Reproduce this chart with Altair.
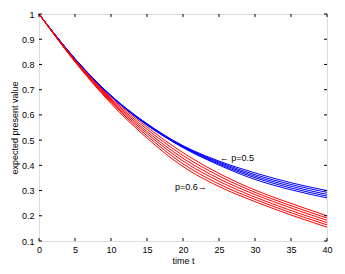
import altair as alt
import pandas as pd

# time grid
t_vals = [0, 5, 10, 15, 20, 25, 30, 35, 40]

# p = 0.5 curves (blue), top to bottom
blue_lines = [
    [1, 0.823, 0.677, 0.565, 0.478, 0.417, 0.370, 0.331, 0.300],
    [1, 0.822, 0.676, 0.564, 0.476, 0.413, 0.363, 0.324, 0.293],
    [1, 0.822, 0.675, 0.562, 0.474, 0.409, 0.357, 0.317, 0.285],
    [1, 0.821, 0.674, 0.561, 0.472, 0.405, 0.351, 0.310, 0.278],
    [1, 0.821, 0.673, 0.559, 0.470, 0.401, 0.344, 0.303, 0.271],
]

# p = 0.6 curves (red), top to bottom
red_lines = [
    [1, 0.818, 0.668, 0.552, 0.450, 0.368, 0.302, 0.249, 0.200],
    [1, 0.816, 0.663, 0.543, 0.439, 0.358, 0.293, 0.240, 0.191],
    [1, 0.815, 0.659, 0.534, 0.428, 0.347, 0.284, 0.231, 0.182],
    [1, 0.813, 0.654, 0.526, 0.417, 0.337, 0.274, 0.221, 0.173],
    [1, 0.812, 0.650, 0.517, 0.406, 0.326, 0.265, 0.212, 0.164],
    [1, 0.810, 0.645, 0.508, 0.395, 0.316, 0.256, 0.203, 0.155],
]

x_ticks = [0, 5, 10, 15, 20, 25, 30, 35, 40]
y_ticks = [0.1, 0.2, 0.3, 0.4, 0.5, 0.6, 0.7, 0.8, 0.9, 1.0]

ann_text = ["\u2190 p=0.5", "p=0.6\u2192"]
ann_t = [25.1, 23.3]
ann_v = [0.428, 0.315]
ann_align = ["left", "right"]

x_title = "time t"
y_title = "expected present value"

rows = []
for i, ys in enumerate(blue_lines):
    for t, v in zip(t_vals, ys):
        rows.append({"t": t, "v": v, "grp": "p=0.5", "id": f"b{i}"})
for i, ys in enumerate(red_lines):
    for t, v in zip(t_vals, ys):
        rows.append({"t": t, "v": v, "grp": "p=0.6", "id": f"r{i}"})
df = pd.DataFrame(rows)

FONT = "Liberation Sans"
W, H = 288, 227
TL = 3

xs = alt.Scale(domain=[0, 40], nice=False, zero=False)
ys_ = alt.Scale(domain=[0.1, 1.0], nice=False, zero=False)

x_axis = alt.Axis(values=x_ticks, format="d", tickSize=0, domain=False, grid=False,
                  labelOverlap=False, labelFlush=False,
                  labelFontSize=9, labelPadding=4, titleFontSize=9,
                  titleFontWeight="normal", titlePadding=2,
                  labelColor="black", titleColor="black", labelFont=FONT, titleFont=FONT)
y_axis = alt.Axis(values=y_ticks, format=".1~f", tickSize=0, domain=False, grid=False,
                  labelOverlap=False, labelFlush=False,
                  labelFontSize=9, labelPadding=5, titleFontSize=9,
                  titleFontWeight="normal", titlePadding=2,
                  labelColor="black", titleColor="black", labelFont=FONT, titleFont=FONT)

lines = alt.Chart(df).mark_line(strokeWidth=1, interpolate="monotone").encode(
    x=alt.X("t:Q", scale=xs, title=x_title, axis=x_axis),
    y=alt.Y("v:Q", scale=ys_, title=y_title, axis=y_axis),
    color=alt.Color("grp:N", scale=alt.Scale(domain=["p=0.5", "p=0.6"], range=["#0000ff", "#ff0000"]),
                    legend=None),
    detail="id:N",
)

xt = pd.DataFrame({"t": x_ticks})
yt = pd.DataFrame({"v": y_ticks})

bt = alt.Chart(xt).mark_rule(color="black", strokeWidth=1).encode(
    x=alt.X("t:Q", scale=xs, title=x_title, axis=x_axis), y=alt.value(H), y2=alt.value(H - TL))
tt = alt.Chart(xt).mark_rule(color="black", strokeWidth=1).encode(
    x=alt.X("t:Q", scale=xs, title=x_title, axis=x_axis), y=alt.value(0), y2=alt.value(TL))
lt = alt.Chart(yt).mark_rule(color="black", strokeWidth=1).encode(
    y=alt.Y("v:Q", scale=ys_, title=y_title, axis=y_axis), x=alt.value(0), x2=alt.value(TL))
rt = alt.Chart(yt).mark_rule(color="black", strokeWidth=1).encode(
    y=alt.Y("v:Q", scale=ys_, title=y_title, axis=y_axis), x=alt.value(W), x2=alt.value(W - TL))

ann_df = pd.DataFrame({"t": ann_t, "v": ann_v, "text": ann_text, "align": ann_align})
ann_l = alt.Chart(ann_df[ann_df["align"] == "left"]).mark_text(
    align="left", baseline="middle", fontSize=9, font=FONT, color="black").encode(
    x=alt.X("t:Q", scale=xs, title=x_title, axis=x_axis),
    y=alt.Y("v:Q", scale=ys_, title=y_title, axis=y_axis), text="text:N")
ann_r = alt.Chart(ann_df[ann_df["align"] == "right"]).mark_text(
    align="right", baseline="middle", fontSize=9, font=FONT, color="black").encode(
    x=alt.X("t:Q", scale=xs, title=x_title, axis=x_axis),
    y=alt.Y("v:Q", scale=ys_, title=y_title, axis=y_axis), text="text:N")

chart = alt.layer(lines, bt, tt, lt, rt, ann_l, ann_r).properties(
    width=W, height=H,
    autosize=alt.AutoSizeParams(type="none"),
    padding={"left": 31, "top": 6, "right": 10, "bottom": 30},
).configure_view(stroke="black", strokeWidth=1.2).configure(background="white")

chart.save("out.html", embed_options={"renderer": "svg", "actions": False})
